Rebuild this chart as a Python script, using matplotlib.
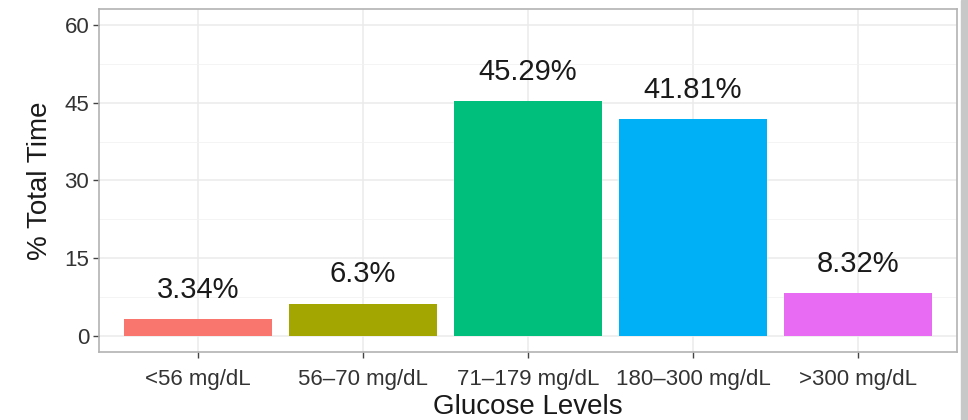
import matplotlib
matplotlib.use("Agg")
import matplotlib.pyplot as plt
from matplotlib.patches import Rectangle

categories = ["<56 mg/dL", "56\u201370 mg/dL", "71\u2013179 mg/dL", "180\u2013300 mg/dL", ">300 mg/dL"]
values = [3.34, 6.3, 45.29, 41.81, 8.32]
labels = ["3.34%", "6.3%", "45.29%", "41.81%", "8.32%"]
colors = ["#F8766D", "#A3A500", "#00BF7D", "#00B0F6", "#E76BF3"]
yticks = [0, 15, 30, 45, 60]

plt.rcParams['font.family'] = ['Liberation Sans', 'DejaVu Sans']

fig = plt.figure(figsize=(9.68, 4.2), dpi=100)
ax = fig.add_axes([0.1023, 0.1619, 0.8863, 0.8167])

x = list(range(1, len(categories) + 1))
ax.bar(x, values, width=0.9, color=colors, zorder=3)
for xi, v, lab in zip(x, values, labels):
    ax.text(xi, v + 4.1, lab, ha='center', va='baseline', fontsize=21, color='#1a1a1a', zorder=4)

ax.set_xlim(0.4, 5.6)
ax.set_ylim(-3, 63)
ax.set_xticks(x)
ax.set_xticklabels(categories)
ax.set_yticks(yticks)
ax.set_yticks([7.5, 22.5, 37.5, 52.5], minor=True)

ax.grid(which='major', color='#EBEBEB', linewidth=1.1, zorder=0)
ax.grid(which='minor', axis='y', color='#F2F2F2', linewidth=0.6, zorder=0)
ax.tick_params(axis='both', which='major', length=4, width=1, color='#444444',
               labelsize=16, labelcolor='#333333', pad=3)
ax.tick_params(axis='x', which='major', pad=8)
ax.tick_params(which='minor', length=0)
for s in ax.spines.values():
    s.set_color('#b3b3b3')
    s.set_linewidth(1.2)

ax.set_xlabel("Glucose Levels", fontsize=20, color='#1a1a1a', labelpad=3)
ax.set_ylabel("% Total Time", fontsize=20, color='#1a1a1a', labelpad=8)

# grey strip at right edge of image
fig.patches.append(Rectangle((961 / 968, 0), 7 / 968, 1, transform=fig.transFigure,
                             color='#c8c8c8', zorder=0))

fig.savefig("out.png", dpi=100)
